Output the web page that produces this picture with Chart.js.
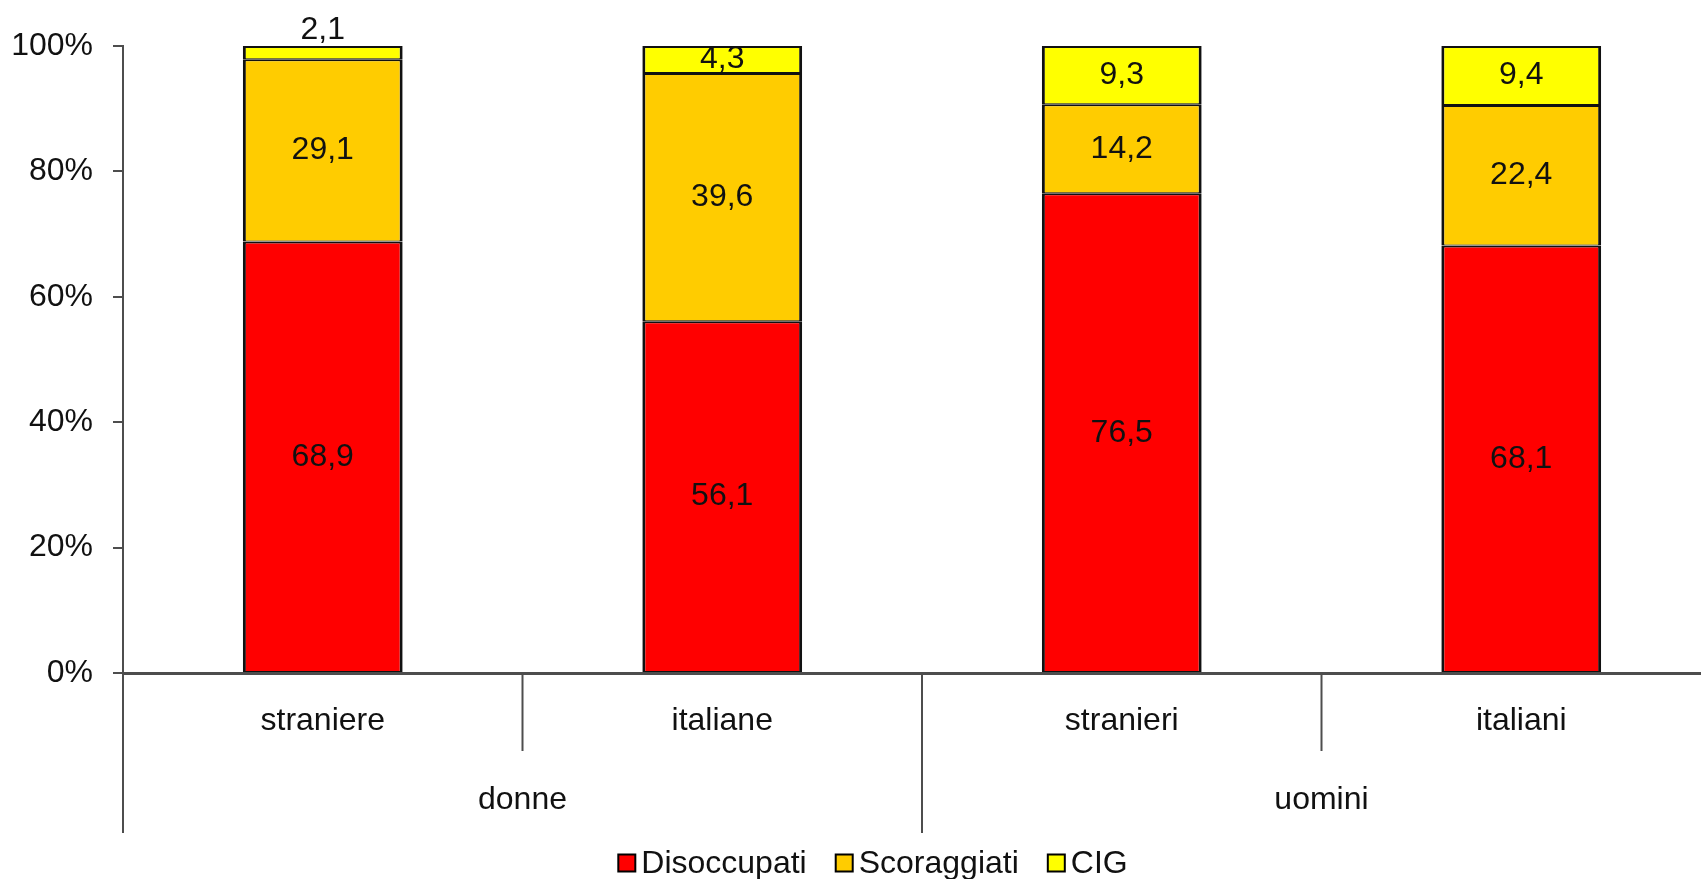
<!DOCTYPE html>
<html>
<head>
<meta charset="utf-8">
<script src="https://cdn.jsdelivr.net/npm/chart.js@4.4.0/dist/chart.umd.min.js"></script>
<style>
  html, body { margin: 0; padding: 0; overflow: hidden; background: #fff; }
  canvas { display: block; }
</style>
</head>
<body>
<canvas id="chart" width="1725" height="879"></canvas>
<script>
// values (percent shares, as printed on the bars)
const categories = ['straniere', 'italiane', 'stranieri', 'italiani'];
const groups = ['donne', 'uomini'];
const disoccupati = [68.9, 56.1, 76.5, 68.1];
const scoraggiati = [29.1, 39.6, 14.2, 22.4];
const cig = [2.1, 4.3, 9.3, 9.4];
const seriesNames = ['Disoccupati', 'Scoraggiati', 'CIG'];
const seriesColors = ['#FF0000', '#FFCC00', '#FFFF00'];

const FONT = '"Liberation Sans", Arial, sans-serif';
const TEXT = '#111';
const AXIS = '#4d4d4d';

// 100% stacked: scale each column to its own total
const raw = [disoccupati, scoraggiati, cig];
const totals = categories.map((c, i) => raw.reduce((s, arr) => s + arr[i], 0));
const shares = raw.map(arr => arr.map((v, i) => v / totals[i] * 100));

const fmt = v => v.toFixed(1).replace('.', ',');

// value labels in the middle of each segment (above the bar when too thin)
const valueLabels = {
  id: 'valueLabels',
  afterDatasetsDraw(chart) {
    const ctx = chart.ctx;
    ctx.save();
    ctx.font = '32px ' + FONT;
    ctx.fillStyle = TEXT;
    ctx.textAlign = 'center';
    ctx.textBaseline = 'middle';
    chart.data.datasets.forEach((ds, d) => {
      chart.getDatasetMeta(d).data.forEach((bar, i) => {
        const h = Math.abs(bar.base - bar.y);
        let y = (bar.y + bar.base) / 2;
        if (h < 20) y = Math.min(bar.y, bar.base) - 16;
        ctx.fillText(fmt(raw[d][i]), bar.x, y);
      });
    });
    ctx.restore();
  }
};

// category dividers, group labels and legend under the axis
const extras = {
  id: 'extras',
  afterDraw(chart) {
    const ctx = chart.ctx;
    const x = chart.scales.x;
    const bottom = chart.chartArea.bottom;
    const half = (x.getPixelForValue(1) - x.getPixelForValue(0)) / 2;
    const perGroup = categories.length / groups.length;
    ctx.save();
    ctx.strokeStyle = AXIS;
    ctx.lineWidth = 2;
    for (let i = 0; i <= categories.length; i++) {
      const bx = (i < categories.length ? x.getPixelForValue(i) : x.getPixelForValue(i - 1) + 2 * half) - half;
      const end = i % perGroup === 0 ? 833 : 751;
      ctx.beginPath();
      ctx.moveTo(bx, bottom);
      ctx.lineTo(bx, end);
      ctx.stroke();
    }
    ctx.font = '32px ' + FONT;
    ctx.fillStyle = TEXT;
    ctx.textAlign = 'center';
    ctx.textBaseline = 'middle';
    groups.forEach((g, k) => {
      const a = x.getPixelForValue(k * perGroup) - half;
      const b = x.getPixelForValue((k + 1) * perGroup - 1) + half;
      ctx.fillText(g, (a + b) / 2, 800);
    });

    // legend
    const box = 17, gap = 6, itemGap = 29, ly = 863, cx = 873;
    const widths = seriesNames.map(n => box + gap + ctx.measureText(n).width);
    const total = widths.reduce((s, w) => s + w, 0) + itemGap * (seriesNames.length - 1);
    let lx = cx - total / 2;
    ctx.textAlign = 'left';
    seriesNames.forEach((n, k) => {
      ctx.fillStyle = seriesColors[k];
      ctx.fillRect(lx, ly - box / 2, box, box);
      ctx.strokeStyle = '#000';
      ctx.lineWidth = 2;
      ctx.strokeRect(lx, ly - box / 2, box, box);
      ctx.fillStyle = TEXT;
      ctx.fillText(n, lx + box + gap, ly + 1);
      lx += widths[k] + itemGap;
    });
    ctx.restore();
  }
};

new Chart(document.getElementById('chart'), {
  type: 'bar',
  data: {
    labels: categories,
    datasets: seriesNames.map((n, k) => ({
      label: n,
      data: shares[k],
      backgroundColor: seriesColors[k],
      borderColor: '#111',
      borderWidth: { left: 3, right: 3, top: 2, bottom: 1 },
      borderSkipped: false,
      barPercentage: 0.4,
      categoryPercentage: 1
    }))
  },
  options: {
    responsive: false,
    animation: false,
    events: [],
    layout: { padding: { top: 46, right: 4, left: 0, bottom: 0 } },
    plugins: { legend: { display: false }, tooltip: { enabled: false } },
    scales: {
      x: {
        stacked: true,
        grid: { display: false, drawTicks: false },
        border: { color: AXIS, width: 3 },
        ticks: { color: TEXT, font: { family: FONT, size: 32 }, padding: 29, maxRotation: 0 },
        afterFit: s => { s.height = 206; }
      },
      y: {
        stacked: true,
        min: 0,
        max: 100,
        grid: { drawOnChartArea: false, color: AXIS, lineWidth: 2, tickLength: 10 },
        border: { color: AXIS, width: 2 },
        ticks: { stepSize: 20, padding: 20, color: TEXT, font: { family: FONT, size: 32 }, callback: v => v + '%' },
        afterFit: s => { s.width = 123; }
      }
    }
  },
  plugins: [valueLabels, extras]
});
</script>
</body>
</html>
